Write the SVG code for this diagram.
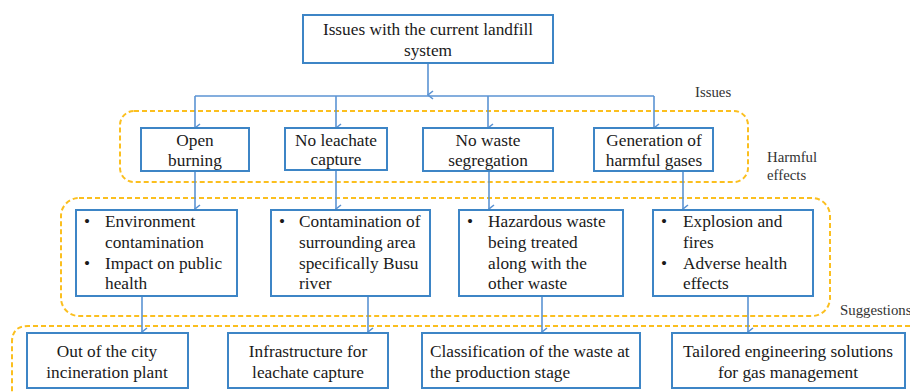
<svg xmlns="http://www.w3.org/2000/svg" width="910" height="392" viewBox="0 0 910 392">
<defs>
<style>
.box{fill:#fff;stroke:#3d85c6;stroke-width:2}
.grp{fill:none;stroke:#fbbf1f;stroke-width:2;stroke-dasharray:5 3}
text{font-family:'Liberation Serif','Times New Roman',serif}
.t{font-size:17.3px;fill:#1a1a1a}
.c{text-anchor:middle}
.lbl{font-size:14.8px;fill:#333}
.con{fill:none;stroke:#5b93d3;stroke-width:1.6}
</style>
<marker id="arr" viewBox="0 0 10 10" refX="5" refY="9" markerWidth="10" markerHeight="10" markerUnits="userSpaceOnUse" orient="auto-start-reverse">
<path d="M1,4 L5,9 L9,4" fill="none" stroke="#5b93d3" stroke-width="1.6"/>
</marker>
</defs>
<rect width="910" height="392" fill="#fff"/>

<g id="groups">
<rect class="grp" x="120" y="111" width="628" height="71" rx="14"/>
<rect class="grp" x="61" y="198" width="769" height="118" rx="18"/>
<path class="grp" d="M910,326 L28,326 Q12,326 12,342 L12,392"/>
</g>
<g id="labels">
<text class="lbl" x="695" y="97">Issues</text>
<text class="lbl" x="767" y="162">Harmful</text>
<text class="lbl" x="767" y="180">effects</text>
<text class="lbl" x="840" y="315">Suggestions</text>
</g>

<g id="connectors">
<path class="con" d="M428,63 L428,95" marker-end="url(#arr)"/>
<path class="con" d="M195,96 L654,96"/>
<path class="con" d="M195,96 L195,128" marker-end="url(#arr)"/>
<path class="con" d="M336,96 L336,128" marker-end="url(#arr)"/>
<path class="con" d="M488,96 L488,128" marker-end="url(#arr)"/>
<path class="con" d="M654,96 L654,128" marker-end="url(#arr)"/>
<path class="con" d="M195,171 L195,209" marker-end="url(#arr)"/>
<path class="con" d="M336,170 L336,209" marker-end="url(#arr)"/>
<path class="con" d="M489,171 L489,209" marker-end="url(#arr)"/>
<path class="con" d="M683,171 L683,209" marker-end="url(#arr)"/>
<path class="con" d="M142,296 L142,332" marker-end="url(#arr)"/>
<path class="con" d="M368,296 L368,332" marker-end="url(#arr)"/>
<path class="con" d="M542,296 L542,332" marker-end="url(#arr)"/>
<path class="con" d="M748,296 L748,332" marker-end="url(#arr)"/>
</g>

<g id="n-top">
<rect class="box" x="303" y="15" width="250" height="48"/>
<text class="t c" x="428" y="35">Issues with the current landfill</text>
<text class="t c" x="428" y="56">system</text>
</g>

<g id="n-open-burning">
<rect class="box" x="141" y="128" width="108" height="43"/>
<text class="t c" x="195" y="146">Open</text>
<text class="t c" x="195" y="166">burning</text>
</g>
<g id="n-leachate">
<rect class="box" x="285" y="128" width="102" height="42"/>
<text class="t c" x="336" y="146">No leachate</text>
<text class="t c" x="336" y="165">capture</text>
</g>
<g id="n-segregation">
<rect class="box" x="423" y="128" width="130" height="43"/>
<text class="t c" x="488" y="146">No waste</text>
<text class="t c" x="488" y="166">segregation</text>
</g>
<g id="n-gases">
<rect class="box" x="594" y="128" width="119" height="43"/>
<text class="t c" x="654" y="146">Generation of</text>
<text class="t c" x="654" y="166">harmful gases</text>
</g>

<g id="n-effect1">
<rect class="box" x="76" y="210" width="161" height="86"/>
<text class="t" x="84" y="227">•</text>
<text class="t" x="105" y="227">Environment</text>
<text class="t" x="105" y="248">contamination</text>
<text class="t" x="84" y="269">•</text>
<text class="t" x="105" y="269">Impact on public</text>
<text class="t" x="105" y="289">health</text>
</g>
<g id="n-effect2">
<rect class="box" x="271" y="210" width="159" height="86"/>
<text class="t" x="279" y="227">•</text>
<text class="t" x="299" y="227">Contamination of</text>
<text class="t" x="299" y="248">surrounding area</text>
<text class="t" x="299" y="269">specifically Busu</text>
<text class="t" x="299" y="289">river</text>
</g>
<g id="n-effect3">
<rect class="box" x="459" y="210" width="164" height="86"/>
<text class="t" x="467" y="227">•</text>
<text class="t" x="488" y="227">Hazardous waste</text>
<text class="t" x="488" y="248">being treated</text>
<text class="t" x="488" y="269">along with the</text>
<text class="t" x="488" y="289">other waste</text>
</g>
<g id="n-effect4">
<rect class="box" x="653" y="210" width="160" height="86"/>
<text class="t" x="661" y="227">•</text>
<text class="t" x="683" y="227">Explosion and</text>
<text class="t" x="683" y="248">fires</text>
<text class="t" x="661" y="269">•</text>
<text class="t" x="683" y="269">Adverse health</text>
<text class="t" x="683" y="289">effects</text>
</g>

<g id="n-sug1">
<rect class="box" x="27" y="333" width="161" height="55"/>
<text class="t c" x="107" y="357">Out of the city</text>
<text class="t c" x="107" y="378">incineration plant</text>
</g>
<g id="n-sug2">
<rect class="box" x="228" y="333" width="160" height="55"/>
<text class="t c" x="308" y="357">Infrastructure for</text>
<text class="t c" x="308" y="378">leachate capture</text>
</g>
<g id="n-sug3">
<rect class="box" x="422" y="333" width="218" height="55"/>
<text class="t" x="430" y="357">Classification of the waste at</text>
<text class="t" x="430" y="378">the production stage</text>
</g>
<g id="n-sug4">
<rect class="box" x="672" y="333" width="233" height="55"/>
<text class="t c" x="788" y="357">Tailored engineering solutions</text>
<text class="t c" x="788" y="378">for gas management</text>
</g>
</svg>
